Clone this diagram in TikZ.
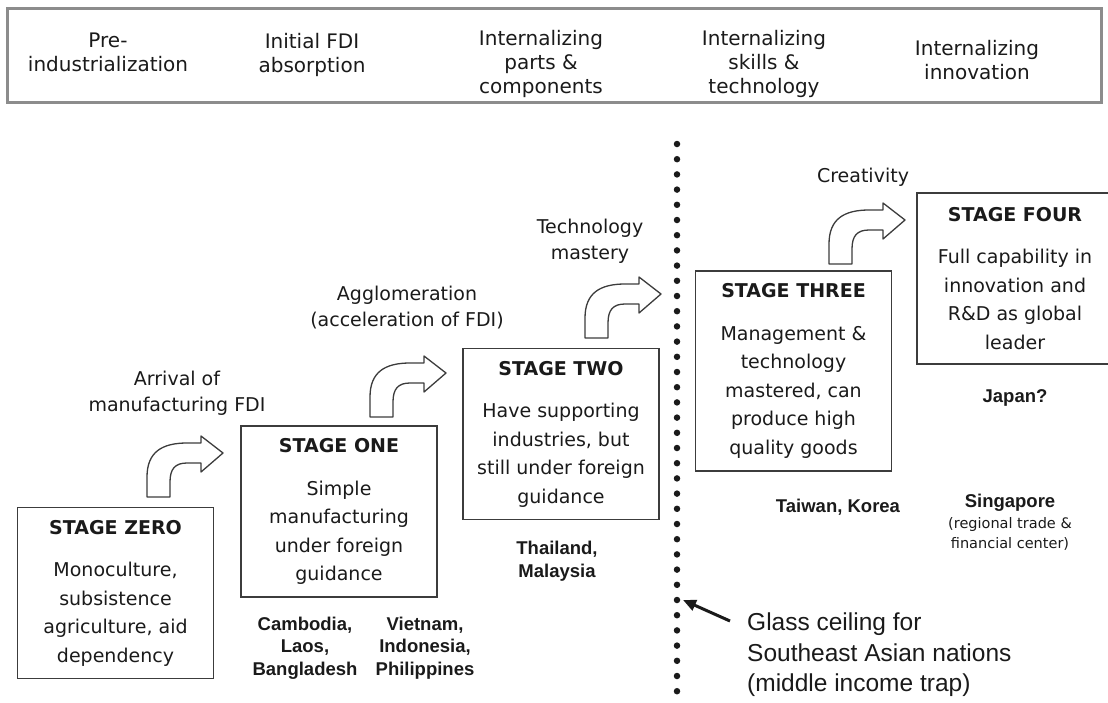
\documentclass[tikz,border=0pt]{standalone}
\usepackage{fontspec}
\setmainfont{DejaVu Sans}
\newfontfamily\arialfont{Liberation Sans}
\usetikzlibrary{arrows.meta,positioning}
\definecolor{LineGray}{HTML}{3C3C3C}
\definecolor{HeadGray}{HTML}{8C8C8C}
\definecolor{InkBlack}{HTML}{1A1A1A}

\begin{document}
\begin{tikzpicture}[x=1pt,y=-1pt,
  stagebox/.style={draw=LineGray,line width=1.4pt,minimum width=196pt,minimum height=171pt,align=center,inner sep=0pt,text=InkBlack,font=\fontsize{19}{28.5}\selectfont},
  phase/.style={align=center,text=InkBlack,font=\fontsize{20}{24}\selectfont},
  move/.style={align=center,text=InkBlack,font=\fontsize{19}{26}\selectfont},
  land/.style={align=center,text=InkBlack,font=\arialfont\bfseries\fontsize{18.5}{22.5}\selectfont},
  arrowline/.style={draw=LineGray,line width=1.3pt,fill=white,line join=round},
  bentarrow/.pic={\draw[arrowline] (0,0) -- (0,-20) .. controls (0,-45) and (15,-54) .. (40,-54) -- (54,-54) -- (54,-61) -- (76,-44) -- (54,-25) -- (54,-34) -- (40,-34) .. controls (28,-34) and (23,-28) .. (23,-15) -- (23,0) -- cycle;},
  ceiling/.style={line width=6.5pt,line cap=round,dash pattern=on 0pt off 15.2pt,InkBlack},
  pointer/.style={-{Triangle[length=13pt,width=11pt]},line width=3pt,InkBlack}
]
\useasboundingbox (0,0) rectangle (1108,702);
\node[draw=HeadGray,line width=3pt,minimum width=1094pt,minimum height=94pt] (hdr) at (554,55) {};
\node[phase] (pre) at (108,52) {Pre-\\industrialization};
\node[phase] (fdi) at (312,55) {Initial FDI\\absorption};
\node[phase] (parts) at (541,64) {Internalizing\\parts \&\\components};
\node[phase] (skills) at (764,64) {Internalizing\\skills \&\\technology};
\node[phase] (innov) at (977,60) {Internalizing\\innovation};

\node[stagebox] (zero) at (115.5,593) {\textbf{STAGE ZERO}\\[14pt]Monoculture,\\subsistence\\agriculture, aid\\dependency};
\node[stagebox] (one) at (339,511.5) {\textbf{STAGE ONE}\\[14pt]Simple\\manufacturing\\under foreign\\guidance};
\node[stagebox] (two) at (561,434) {\textbf{STAGE TWO}\\[14pt]Have supporting\\industries, but\\still under foreign\\guidance};
\node[stagebox,minimum height=200pt] (three) at (793.5,371) {\textbf{STAGE THREE}\\[14pt]Management \&\\technology\\mastered, can\\produce high\\quality goods};
\node[stagebox] (four) at (1015,278.5) {\textbf{STAGE FOUR}\\[14pt]Full capability in\\innovation and\\R\&D as global\\leader};

\pic at (147,497) {bentarrow};
\pic at (370,417) {bentarrow};
\pic at (585,338) {bentarrow};
\pic at (829,264) {bentarrow};

\node[move] (arrival) at (177,393) {Arrival of\\manufacturing FDI};
\node[move] (agglo) at (407,308) {Agglomeration\\(acceleration of FDI)};
\node[move] (mastery) at (590,241) {Technology\\mastery};
\node[move] (creative) at (863,177) {Creativity};

\node[land] (cambodia) at (305,648) {Cambodia,\\Laos,\\Bangladesh};
\node[land] (vietnam) at (425,648) {Vietnam,\\Indonesia,\\Philippines};
\node[land] (thai) at (557,561) {Thailand,\\Malaysia};
\node[land] (taiwan) at (838,507) {Taiwan, Korea};
\node[land] (japan) at (1015,398) {Japan?};
\node[land] (singapore) at (1010,503) {Singapore};
\node[align=center,text=InkBlack,font=\fontsize{14.5}{20}\selectfont,inner sep=1pt] (hub) [below=1pt of singapore] {(regional trade \&\\financial center)};

\coordinate (dtop) at (677,144);
\coordinate (dbot) at (677,702);
\draw[ceiling] (dtop) -- (dbot);

\node[font=\arialfont\fontsize{24.5}{30.5}\selectfont,text=InkBlack,align=left,anchor=north west,inner sep=0pt] (glass) at (747,613) {Glass ceiling for\\Southeast Asian nations\\(middle income trap)};
\coordinate (tail) at (730,621);
\coordinate (ceil) at (683,600);
\draw[pointer] (tail) -- (ceil);
\end{tikzpicture}
\end{document}
